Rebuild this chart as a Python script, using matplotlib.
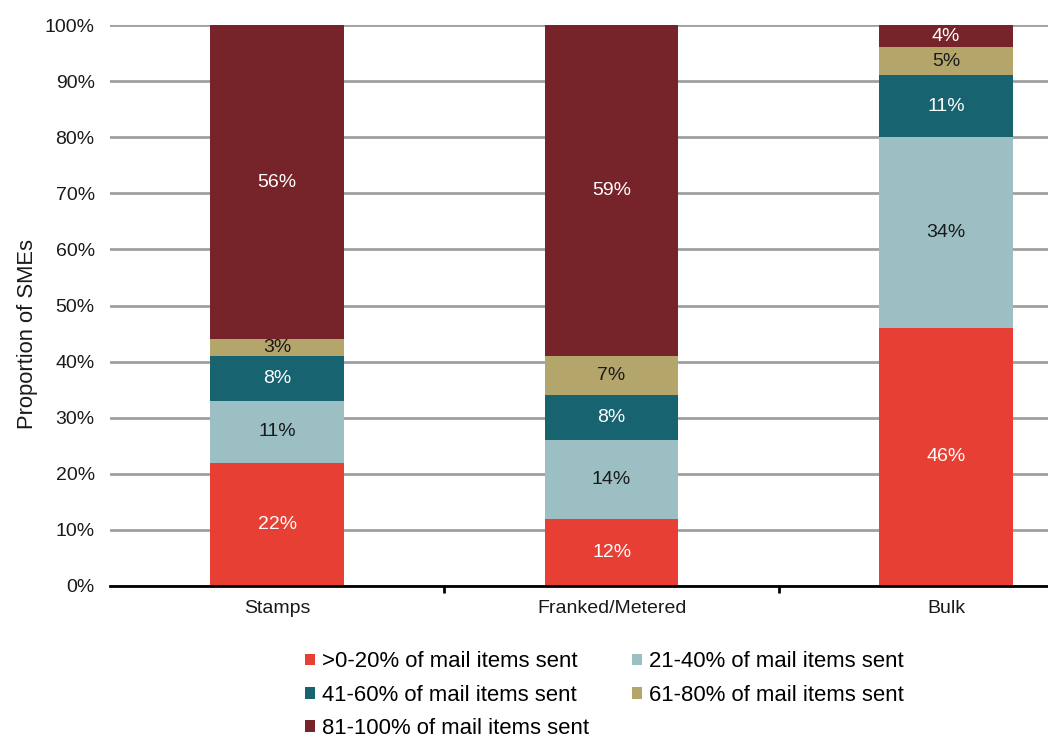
import matplotlib
matplotlib.use("Agg")
import matplotlib.pyplot as plt
import numpy as np

plt.rcParams['font.family'] = ['Liberation Sans', 'DejaVu Sans']

categories = ["Stamps", "Franked/Metered", "Bulk"]
series_names = [
    ">0-20% of mail items sent",
    "21-40% of mail items sent",
    "41-60% of mail items sent",
    "61-80% of mail items sent",
    "81-100% of mail items sent",
]
share_0_20 = [22, 12, 46]
share_21_40 = [11, 14, 34]
share_41_60 = [8, 8, 11]
share_61_80 = [3, 7, 5]
share_81_100 = [56, 59, 4]

series_values = [share_0_20, share_21_40, share_41_60, share_61_80, share_81_100]
colors = ["#E83F35", "#9BBFC3", "#17636F", "#B4A66B", "#77232A"]
label_colors = ["white", "#1a1a1a", "white", "#1a1a1a", "white"]

fig = plt.figure(figsize=(10.48, 7.38), dpi=100)
ax = fig.add_axes([110 / 1048, 1 - 586 / 738, 1 - 110 / 1048, (586 - 25) / 738])

x = np.arange(len(categories))
bottom = np.zeros(len(categories))
handles = []
for name, vals, col, lc in zip(series_names, series_values, colors, label_colors):
    vals = np.array(vals, dtype=float)
    bars = ax.bar(x, vals, bottom=bottom, width=0.4, color=col, label=name, zorder=3)
    handles.append(bars)
    for xi, v, b in zip(x, vals, bottom):
        ax.text(xi, b + v / 2, f"{v:.0f}%", ha="center", va="center",
                color=lc, fontsize=14, zorder=4)
    bottom += vals

ax.set_ylim(0, 100)
ax.set_xlim(-0.5, 2.305)
ax.set_yticks(np.arange(0, 101, 10))
ax.set_yticklabels([f"{v}%" for v in range(0, 101, 10)], fontsize=14, color="#1a1a1a")
ax.tick_params(axis="y", length=0, pad=11)
ax.yaxis.grid(True, color="#A0A0A0", linewidth=2, zorder=0)
ax.set_axisbelow(True)

ax.set_xticks(x)
ax.set_xticklabels(categories, fontsize=14, color="#1a1a1a")
ax.tick_params(axis="x", which="major", length=0, pad=10)
ax.set_xticks([0.5, 1.5], minor=True)
ax.tick_params(axis="x", which="minor", length=5, width=2, direction="out", color="black")

for side in ["top", "right", "left"]:
    ax.spines[side].set_visible(False)
ax.spines["bottom"].set_linewidth(2)
ax.spines["bottom"].set_color("black")
ax.spines["bottom"].set_zorder(5)

ax.set_ylabel("Proportion of SMEs", fontsize=15.8, color="#1a1a1a")
ax.yaxis.set_label_coords(-0.0768, 0.449)

order = [0, 2, 4, 1, 3]
leg = fig.legend([handles[i] for i in order], [series_names[i] for i in order],
                 loc="center", bbox_to_anchor=(0.577, 0.058), ncol=2, frameon=False,
                 fontsize=15.9, handlelength=0.45, handleheight=0.45, handletextpad=0.32,
                 columnspacing=1.96, labelspacing=0.56)

fig.savefig("out.png", dpi=100)
